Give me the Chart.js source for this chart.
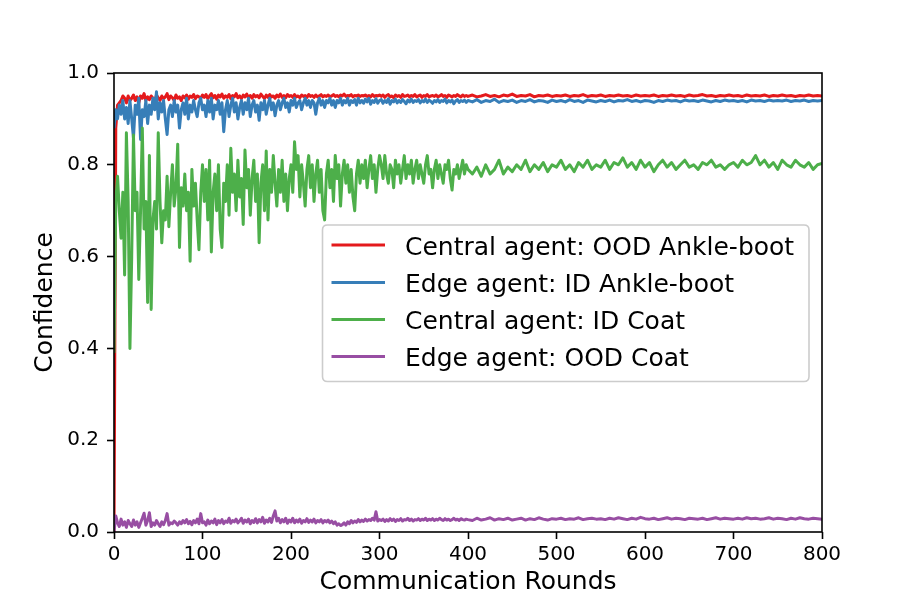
<!DOCTYPE html>
<html>
<head>
<meta charset="utf-8">
<script src="https://cdn.jsdelivr.net/npm/chart.js@4.4.1/dist/chart.umd.min.js"></script>
<style>
  html, body { margin: 0; padding: 0; background: #ffffff; }
  #wrap { width: 913px; height: 609px; }
</style>
</head>
<body>
<div id="wrap"><canvas id="confChart" width="913" height="609"></canvas></div>
<script>

/* communication rounds (every 2 up to 400, every 5 afterwards) */
let rounds = [
   0,2,4,6,8,10,12,14,16,18,
   20,22,24,26,28,30,32,34,36,38,
   40,42,44,46,48,50,52,54,56,58,
   60,62,64,66,68,70,72,74,76,78,
   80,82,84,86,88,90,92,94,96,98,
   100,
   102,104,106,108,110,112,114,116,118,120,
   122,124,126,128,130,132,134,136,138,140,
   142,144,146,148,150,152,154,156,158,160,
   162,164,166,168,170,172,174,176,178,180,
   182,184,186,188,190,192,194,196,198,200,
   202,204,206,208,210,212,214,216,218,220,
   222,224,226,228,230,232,234,236,238,240,
   242,244,246,248,250,252,254,256,258,260,
   262,264,266,268,270,272,274,276,278,280,
   282,284,286,288,290,292,294,296,298,300,
   302,304,306,308,310,312,314,316,318,320,
   322,324,326,328,330,332,334,336,338,340,
   342,344,346,348,350,352,354,356,358,360,
   362,364,366,368,370,372,374,376,378,380,
   382,384,386,388,390,392,394,396,398,400,
   405,410,415,420,425,430,435,440,445,450,
   455,460,465,470,475,480,485,490,495,500,
   505,510,515,520,525,530,535,540,545,550,
   555,560,565,570,575,580,585,590,595,600,
   605,610,615,620,625,630,635,640,645,650,
   655,660,665,670,675,680,685,690,695,700,
   705,710,715,720,725,730,735,740,745,750,
   755,760,765,770,775,780,785,790,795,800
];

let centralOodBoot = [
   0.0,0.88,0.93,0.935,0.94,0.95,0.945,0.935,0.95,0.94,
   0.945,0.952,0.94,0.948,0.935,0.95,0.945,0.955,0.94,0.948,
   0.942,0.95,0.945,0.938,0.952,0.946,0.94,0.95,0.944,0.948,
   0.955,0.942,0.95,0.946,0.94,0.952,0.945,0.948,0.94,0.95,
   0.946,0.952,0.943,0.95,0.947,0.953,0.944,0.95,0.948,0.945,
   0.952,
   0.947,0.953,0.944,0.95,0.955,0.946,0.951,0.943,0.952,0.948,
   0.954,0.945,0.95,0.947,0.953,0.944,0.951,0.948,0.955,0.946,
   0.95,0.944,0.952,0.948,0.954,0.946,0.951,0.945,0.953,0.948,
   0.951,0.946,0.954,0.949,0.944,0.952,0.947,0.953,0.948,0.95,
   0.945,0.952,0.948,0.954,0.947,0.951,0.946,0.953,0.949,0.951,
   0.947,0.953,0.948,0.95,0.946,0.952,0.949,0.951,0.947,0.953,
   0.949,0.951,0.947,0.952,0.948,0.95,0.953,0.948,0.951,0.949,
   0.952,0.948,0.95,0.953,0.949,0.951,0.948,0.952,0.95,0.954,
   0.949,0.951,0.95,0.953,0.948,0.951,0.95,0.952,0.949,0.951,
   0.95,0.952,0.949,0.951,0.948,0.953,0.949,0.951,0.95,0.952,
   0.949,0.952,0.947,0.951,0.953,0.948,0.95,0.946,0.952,0.949,
   0.951,0.947,0.953,0.949,0.95,0.952,0.948,0.951,0.949,0.953,
   0.948,0.95,0.952,0.947,0.951,0.949,0.953,0.948,0.95,0.951,
   0.949,0.952,0.948,0.95,0.953,0.949,0.951,0.947,0.952,0.95,
   0.948,0.951,0.949,0.953,0.95,0.948,0.952,0.949,0.951,0.949,
   0.952,0.948,0.95,0.953,0.949,0.951,0.948,0.952,0.95,0.954,
   0.949,0.951,0.95,0.953,0.948,0.951,0.95,0.952,0.949,0.951,
   0.95,0.952,0.949,0.951,0.95,0.953,0.949,0.951,0.95,0.952,
   0.949,0.951,0.95,0.952,0.95,0.951,0.949,0.952,0.95,0.951,
   0.95,0.952,0.949,0.951,0.95,0.952,0.95,0.951,0.949,0.952,
   0.95,0.951,0.953,0.95,0.951,0.949,0.951,0.95,0.952,0.95,
   0.951,0.949,0.952,0.95,0.951,0.95,0.952,0.949,0.951,0.95,
   0.952,0.95,0.951,0.949,0.951,0.95,0.952,0.95,0.951,0.95
];

let edgeIdBoot = [
   0.88,0.92,0.90,0.93,0.91,0.94,0.90,0.925,0.89,0.94,
   0.90,0.858,0.93,0.91,0.945,0.855,0.92,0.905,0.94,0.89,
   0.93,0.91,0.945,0.92,0.959,0.90,0.935,0.915,0.94,0.90,
   0.866,0.92,0.93,0.905,0.94,0.915,0.93,0.88,0.92,0.935,
   0.91,0.945,0.90,0.93,0.915,0.94,0.92,0.905,0.935,0.945,
   0.92,
   0.93,0.905,0.94,0.915,0.945,0.90,0.93,0.92,0.94,0.91,
   0.935,0.872,0.92,0.94,0.905,0.93,0.945,0.915,0.935,0.90,
   0.925,0.94,0.91,0.935,0.92,0.945,0.905,0.93,0.94,0.915,
   0.93,0.897,0.935,0.92,0.94,0.91,0.93,0.945,0.92,0.935,
   0.907,0.93,0.94,0.92,0.935,0.945,0.925,0.935,0.915,0.94,
   0.93,0.945,0.925,0.935,0.94,0.92,0.935,0.945,0.93,0.94,
   0.925,0.94,0.935,0.91,0.935,0.945,0.93,0.94,0.925,0.94,
   0.935,0.945,0.93,0.94,0.925,0.94,0.935,0.945,0.93,0.94,
   0.935,0.945,0.93,0.94,0.936,0.942,0.93,0.945,0.935,0.94,
   0.934,0.943,0.937,0.945,0.932,0.94,0.936,0.944,0.934,0.94,
   0.942,0.934,0.94,0.936,0.944,0.932,0.94,0.937,0.943,0.935,
   0.94,0.936,0.942,0.938,0.933,0.941,0.937,0.943,0.936,0.94,
   0.938,0.942,0.935,0.94,0.937,0.943,0.936,0.941,0.938,0.934,
   0.94,0.937,0.942,0.936,0.94,0.938,0.943,0.935,0.94,0.937,
   0.941,0.933,0.939,0.942,0.936,0.94,0.938,0.941,0.936,0.94,
   0.937,0.942,0.936,0.94,0.938,0.943,0.936,0.94,0.938,0.941,
   0.936,0.94,0.938,0.942,0.937,0.94,0.939,0.936,0.941,0.938,
   0.94,0.937,0.942,0.938,0.94,0.936,0.941,0.939,0.937,0.94,
   0.938,0.941,0.937,0.94,0.939,0.942,0.938,0.94,0.937,0.94,
   0.939,0.936,0.94,0.938,0.941,0.939,0.94,0.937,0.941,0.939,
   0.94,0.938,0.941,0.939,0.937,0.94,0.938,0.941,0.939,0.94,
   0.938,0.94,0.937,0.941,0.939,0.94,0.938,0.941,0.939,0.94,
   0.939,0.941,0.938,0.94,0.939,0.941,0.938,0.94,0.939,0.94
];

let centralIdCoat = [
   0.39,0.72,0.775,0.70,0.64,0.74,0.56,0.87,0.72,0.40,
   0.60,0.865,0.70,0.74,0.55,0.70,0.88,0.66,0.72,0.50,
   0.82,0.485,0.68,0.72,0.66,0.87,0.72,0.63,0.70,0.68,
   0.775,0.665,0.74,0.80,0.71,0.75,0.845,0.62,0.75,0.71,
   0.78,0.70,0.74,0.59,0.79,0.71,0.76,0.68,0.615,0.74,
   0.80,
   0.72,0.79,0.68,0.81,0.61,0.74,0.78,0.70,0.80,0.66,
   0.62,0.76,0.72,0.80,0.69,0.836,0.74,0.78,0.70,0.81,
   0.73,0.77,0.67,0.832,0.75,0.79,0.69,0.77,0.81,0.72,
   0.78,0.63,0.76,0.80,0.70,0.83,0.68,0.79,0.74,0.82,
   0.76,0.71,0.79,0.74,0.81,0.72,0.78,0.70,0.77,0.80,
   0.74,0.85,0.79,0.82,0.73,0.80,0.76,0.71,0.79,0.82,
   0.75,0.80,0.72,0.78,0.81,0.74,0.79,0.70,0.68,0.78,
   0.81,0.75,0.79,0.72,0.82,0.77,0.80,0.71,0.78,0.81,
   0.76,0.80,0.74,0.79,0.73,0.70,0.78,0.81,0.76,0.80,
   0.77,0.81,0.75,0.79,0.82,0.77,0.80,0.74,0.79,0.82,
   0.80,0.77,0.82,0.78,0.76,0.80,0.79,0.75,0.81,0.78,
   0.80,0.76,0.79,0.82,0.77,0.80,0.78,0.81,0.76,0.79,
   0.81,0.77,0.80,0.78,0.76,0.80,0.82,0.78,0.79,0.75,
   0.79,0.81,0.77,0.80,0.78,0.76,0.80,0.79,0.81,0.77,
   0.745,0.79,0.78,0.80,0.77,0.79,0.81,0.78,0.80,0.79,
   0.78,0.795,0.775,0.80,0.78,0.79,0.81,0.78,0.795,0.785,
   0.80,0.79,0.81,0.785,0.80,0.79,0.805,0.785,0.80,0.795,
   0.81,0.79,0.80,0.785,0.805,0.795,0.81,0.79,0.80,0.795,
   0.81,0.79,0.805,0.80,0.815,0.795,0.805,0.79,0.81,0.795,
   0.805,0.785,0.80,0.81,0.795,0.805,0.79,0.80,0.81,0.795,
   0.80,0.79,0.805,0.80,0.81,0.795,0.80,0.79,0.80,0.805,
   0.795,0.81,0.80,0.805,0.82,0.80,0.81,0.795,0.805,0.79,
   0.81,0.80,0.795,0.81,0.80,0.795,0.805,0.79,0.80,0.803
];

let edgeOodCoat = [
   0.0,0.035,0.02,0.012,0.028,0.015,0.022,0.01,0.025,0.018,
   0.012,0.026,0.015,0.022,0.01,0.02,0.03,0.041,0.015,0.025,
   0.042,0.012,0.02,0.015,0.025,0.018,0.012,0.022,0.016,0.025,
   0.04,0.015,0.02,0.018,0.024,0.02,0.015,0.022,0.018,0.025,
   0.02,0.027,0.018,0.023,0.016,0.025,0.02,0.028,0.018,0.04,
   0.02,
   0.022,0.015,0.026,0.018,0.024,0.02,0.028,0.016,0.025,0.02,
   0.027,0.018,0.024,0.021,0.03,0.019,0.025,0.022,0.028,0.02,
   0.024,0.03,0.019,0.026,0.022,0.028,0.018,0.025,0.021,0.029,
   0.02,0.027,0.022,0.032,0.019,0.026,0.022,0.03,0.021,0.035,
   0.046,0.024,0.03,0.02,0.027,0.022,0.03,0.019,0.026,0.022,
   0.03,0.02,0.026,0.022,0.028,0.019,0.025,0.022,0.029,0.021,
   0.026,0.022,0.028,0.02,0.025,0.022,0.027,0.02,0.025,0.022,
   0.026,0.02,0.024,0.018,0.022,0.015,0.018,0.014,0.016,0.02,
   0.015,0.022,0.018,0.025,0.02,0.024,0.021,0.027,0.022,0.026,
   0.023,0.028,0.024,0.027,0.025,0.03,0.026,0.044,0.024,0.027,
   0.025,0.028,0.023,0.027,0.024,0.029,0.025,0.028,0.023,0.027,
   0.025,0.029,0.024,0.027,0.026,0.03,0.025,0.028,0.024,0.027,
   0.026,0.029,0.025,0.028,0.026,0.03,0.025,0.028,0.026,0.029,
   0.025,0.028,0.026,0.03,0.027,0.025,0.029,0.026,0.028,0.025,
   0.027,0.03,0.026,0.028,0.025,0.029,0.027,0.026,0.028,0.027,
   0.025,0.03,0.026,0.028,0.031,0.026,0.029,0.027,0.03,0.026,
   0.028,0.03,0.026,0.029,0.027,0.031,0.028,0.026,0.029,0.028,
   0.03,0.027,0.029,0.028,0.031,0.027,0.029,0.03,0.028,0.029,
   0.027,0.03,0.028,0.031,0.029,0.027,0.03,0.028,0.032,0.029,
   0.028,0.03,0.027,0.029,0.031,0.028,0.03,0.029,0.027,0.03,
   0.029,0.028,0.03,0.027,0.029,0.031,0.028,0.03,0.029,0.028,
   0.03,0.028,0.031,0.029,0.03,0.028,0.029,0.031,0.028,0.03,
   0.029,0.027,0.03,0.028,0.031,0.029,0.028,0.03,0.029,0.028
];

let seriesNames = [
   "Central agent: OOD Ankle-boot",
   "Edge agent: ID Ankle-boot",
   "Central agent: ID Coat",
   "Edge agent: OOD Coat"
];

let seriesColors = ["#e41a1c", "#377eb8", "#4daf4a", "#984ea3"];

let xTicks = [0, 100, 200, 300, 400, 500, 600, 700, 800];
let yTicks = [0.0, 0.2, 0.4, 0.6, 0.8, 1.0];

const FONT = "'DejaVu Sans', 'Liberation Sans', sans-serif";

function toPoints(values){

   return rounds.map(function(r, i){
      return { x: r, y: values[i] };
   });

}

/* matplotlib style frame + legend inside the axes */
let frameAndLegend = {

   id: "frameAndLegend",

   afterDraw: function(chart){

      let ctx = chart.ctx;
      let a = chart.chartArea;

      ctx.save();

      // axes box
      ctx.strokeStyle = "#000000";
      ctx.lineWidth = 1.6;
      ctx.strokeRect(a.left, a.top, a.right - a.left, a.bottom - a.top);

      // legend box
      let bx = 322.5, by = 225, bw = 486.5, bh = 156.5, r = 5;

      ctx.beginPath();
      ctx.moveTo(bx + r, by);
      ctx.lineTo(bx + bw - r, by);
      ctx.quadraticCurveTo(bx + bw, by, bx + bw, by + r);
      ctx.lineTo(bx + bw, by + bh - r);
      ctx.quadraticCurveTo(bx + bw, by + bh, bx + bw - r, by + bh);
      ctx.lineTo(bx + r, by + bh);
      ctx.quadraticCurveTo(bx, by + bh, bx, by + bh - r);
      ctx.lineTo(bx, by + r);
      ctx.quadraticCurveTo(bx, by, bx + r, by);
      ctx.closePath();
      ctx.fillStyle = "rgba(255,255,255,0.8)";
      ctx.fill();
      ctx.strokeStyle = "#cccccc";
      ctx.lineWidth = 1.6;
      ctx.stroke();

      let rowY = [245, 282.5, 319.5, 356.5];

      ctx.font = "25px " + FONT;
      ctx.textBaseline = "alphabetic";
      ctx.textAlign = "left";

      seriesNames.forEach(function(name, i){

         ctx.beginPath();
         ctx.moveTo(331.5, rowY[i]);
         ctx.lineTo(385, rowY[i]);
         ctx.strokeStyle = seriesColors[i];
         ctx.lineWidth = 3;
         ctx.stroke();

         ctx.fillStyle = "#000000";
         ctx.fillText(name, 405, rowY[i] + 9.5);

      });

      ctx.restore();

   }

};

let allSeries = [centralOodBoot, edgeIdBoot, centralIdCoat, edgeOodCoat];

let datasets = allSeries.map(function(values, i){

   return {
      label: seriesNames[i],
      data: toPoints(values),
      borderColor: seriesColors[i],
      backgroundColor: seriesColors[i],
      borderWidth: 3,
      borderJoinStyle: "round",
      pointRadius: 0,
      tension: 0,
      fill: false,
      order: 4 - i
   };

});

let ctx = document.getElementById("confChart").getContext("2d");

new Chart(ctx, {

   type: "line",

   data: { datasets: datasets },

   options: {

      responsive: false,
      animation: false,
      devicePixelRatio: 1,

      layout: {
         padding: { left: 0, top: 73, right: 91, bottom: 0 }
      },

      plugins: {
         legend: { display: false },
         tooltip: { enabled: false }
      },

      scales: {

         x: {
            type: "linear",
            min: 0,
            max: 800,
            afterFit: function(s){ s.height = 77; },
            afterBuildTicks: function(s){
               s.ticks = xTicks.map(v => ({ value: v }));
            },
            grid: {
               display: true,
               drawOnChartArea: false,
               drawTicks: true,
               tickLength: 7,
               tickWidth: 1.6,
               tickColor: "#000000"
            },
            border: { display: false },
            ticks: {
               color: "#000000",
               padding: 4,
               maxRotation: 0,
               font: { family: FONT, size: 20 },
               callback: function(v){ return v; }
            },
            title: {
               display: true,
               text: "Communication Rounds",
               color: "#000000",
               font: { family: FONT, size: 25 },
               padding: { top: 0, bottom: 12 }
            }
         },

         y: {
            min: 0,
            max: 1,
            afterFit: function(s){ s.width = 114; },
            afterBuildTicks: function(s){
               s.ticks = yTicks.map(v => ({ value: v }));
            },
            grid: {
               display: true,
               drawOnChartArea: false,
               drawTicks: true,
               tickLength: 7,
               tickWidth: 1.6,
               tickColor: "#000000"
            },
            border: { display: false },
            ticks: {
               color: "#000000",
               padding: 8,
               font: { family: FONT, size: 20 },
               callback: function(v){ return Number(v).toFixed(1); }
            },
            title: {
               display: true,
               text: "Confidence",
               color: "#000000",
               font: { family: FONT, size: 25 },
               padding: { top: 30, bottom: 0 }
            }
         }

      }

   },

   plugins: [frameAndLegend]

});

</script>
</body>
</html>
